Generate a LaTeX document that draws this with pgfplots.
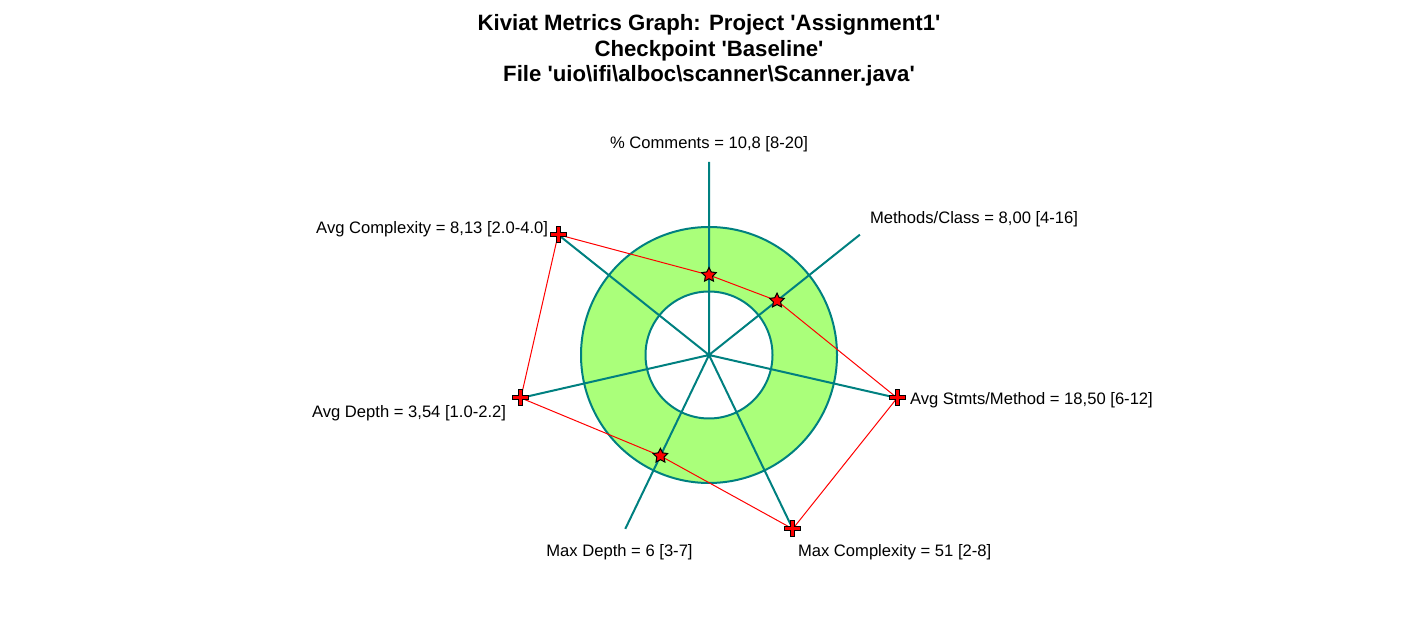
\documentclass[border=0pt]{standalone}
\usepackage{pgfplots}
\pgfplotsset{compat=1.18}
\usepackage{fontspec}
\setmainfont{Liberation Sans}[Ligatures=TeXOff]
\definecolor{kgreen}{RGB}{170,255,122}
\definecolor{kteal}{RGB}{0,128,128}
\definecolor{kred}{RGB}{255,0,0}
\pgfdeclareplotmark{kplus}{%
  \pgfpathmoveto{\pgfpoint{-0.25\pgfplotmarksize}{\pgfplotmarksize}}%
  \pgfpathlineto{\pgfpoint{0.25\pgfplotmarksize}{\pgfplotmarksize}}%
  \pgfpathlineto{\pgfpoint{0.25\pgfplotmarksize}{0.25\pgfplotmarksize}}%
  \pgfpathlineto{\pgfpoint{\pgfplotmarksize}{0.25\pgfplotmarksize}}%
  \pgfpathlineto{\pgfpoint{\pgfplotmarksize}{-0.25\pgfplotmarksize}}%
  \pgfpathlineto{\pgfpoint{0.25\pgfplotmarksize}{-0.25\pgfplotmarksize}}%
  \pgfpathlineto{\pgfpoint{0.25\pgfplotmarksize}{-\pgfplotmarksize}}%
  \pgfpathlineto{\pgfpoint{-0.25\pgfplotmarksize}{-\pgfplotmarksize}}%
  \pgfpathlineto{\pgfpoint{-0.25\pgfplotmarksize}{-0.25\pgfplotmarksize}}%
  \pgfpathlineto{\pgfpoint{-\pgfplotmarksize}{-0.25\pgfplotmarksize}}%
  \pgfpathlineto{\pgfpoint{-\pgfplotmarksize}{0.25\pgfplotmarksize}}%
  \pgfpathlineto{\pgfpoint{-0.25\pgfplotmarksize}{0.25\pgfplotmarksize}}%
  \pgfpathclose\pgfusepathqfillstroke}
\pgfdeclareplotmark{kstar}{%
  \pgfpathmoveto{\pgfpointpolar{90}{\pgfplotmarksize}}%
  \pgfpathlineto{\pgfpointpolar{126}{0.5\pgfplotmarksize}}%
  \pgfpathlineto{\pgfpointpolar{162}{\pgfplotmarksize}}%
  \pgfpathlineto{\pgfpointpolar{198}{0.5\pgfplotmarksize}}%
  \pgfpathlineto{\pgfpointpolar{234}{\pgfplotmarksize}}%
  \pgfpathlineto{\pgfpointpolar{270}{0.5\pgfplotmarksize}}%
  \pgfpathlineto{\pgfpointpolar{306}{\pgfplotmarksize}}%
  \pgfpathlineto{\pgfpointpolar{342}{0.5\pgfplotmarksize}}%
  \pgfpathlineto{\pgfpointpolar{18}{\pgfplotmarksize}}%
  \pgfpathlineto{\pgfpointpolar{54}{0.5\pgfplotmarksize}}%
  \pgfpathclose\pgfusepathqfillstroke}
\begin{document}
\begin{tikzpicture}
\begin{axis}[
  x=0.5pt, y=0.5pt,
  xmin=-709, xmax=709, ymin=-266, ymax=355,
  hide axis, clip=false,
]
\path (rel axis cs:0,0) rectangle (rel axis cs:1,1);
% ring (green band between the range limits)
\filldraw[fill=kgreen, draw=kteal, line width=1pt, even odd rule]
  (axis cs:0,0) circle[radius=64pt] (axis cs:0,0) circle[radius=31.75pt];
% spokes
\addplot[kteal, line width=1pt, data cs=polar] coordinates {
  (90,193) (0,0) (38.57,193) (0,0) (-12.86,193) (0,0) (-64.29,193) (0,0)
  (-115.71,193) (0,0) (-167.14,193) (0,0) (141.43,193)
};
% metric polygon
\addplot[kred, line width=0.5pt, data cs=polar] coordinates {
  (90,80) (38.57,87) (-12.86,193) (-64.29,193) (-115.71,112) (-167.14,193) (141.43,193) (90,80)
};
% in range: stars
\addplot[only marks, data cs=polar, mark=kstar, mark size=3.8pt,
  mark options={fill=kred, draw=black, line width=0.5pt}] coordinates {
  (90,80) (38.57,87) (-115.71,112)
};
% out of range: crosses
\addplot[only marks, data cs=polar, mark=kplus, mark size=4pt,
  mark options={fill=kred, draw=black, line width=0.5pt}] coordinates {
  (-12.86,193) (-64.29,193) (-167.14,193) (141.43,193)
};
\begin{scope}[every node/.append style={inner sep=0pt, outer sep=0pt}]
% title
\node[anchor=base, font=\fontsize{11.1}{13}\selectfont\bfseries] at (axis cs:0,324) {Kiviat Metrics Graph: Project 'Assignment1'};
\node[anchor=base, font=\fontsize{11.1}{13}\selectfont\bfseries] at (axis cs:0,298.5) {Checkpoint 'Baseline'};
\node[anchor=base, font=\fontsize{11.1}{13}\selectfont\bfseries] at (axis cs:0,273) {File 'uio\textbackslash ifi\textbackslash alboc\textbackslash scanner\textbackslash Scanner.java'};
% labels
\node[anchor=base, font=\fontsize{8.3}{10}\selectfont] at (axis cs:0,206) {\% Comments = 10,8 [8-20]};
\node[anchor=base west, font=\fontsize{8.3}{10}\selectfont] at (axis cs:161,131) {Methods/Class = 8,00 [4-16]};
\node[anchor=base west, font=\fontsize{8.3}{10}\selectfont] at (axis cs:201,-50) {Avg Stmts/Method = 18,50 [6-12]};
\node[anchor=base west, font=\fontsize{8.3}{10}\selectfont] at (axis cs:89,-202) {Max Complexity = 51 [2-8]};
\node[anchor=base, font=\fontsize{8.3}{10}\selectfont] at (axis cs:-89.5,-202) {Max Depth = 6 [3-7]};
\node[anchor=base east, font=\fontsize{8.3}{10}\selectfont] at (axis cs:-203,-63) {Avg Depth = 3,54 [1.0-2.2]};
\node[anchor=base east, font=\fontsize{8.3}{10}\selectfont] at (axis cs:-161,121) {Avg Complexity = 8,13 [2.0-4.0]};
\end{scope}
\end{axis}
\end{tikzpicture}
\end{document}
